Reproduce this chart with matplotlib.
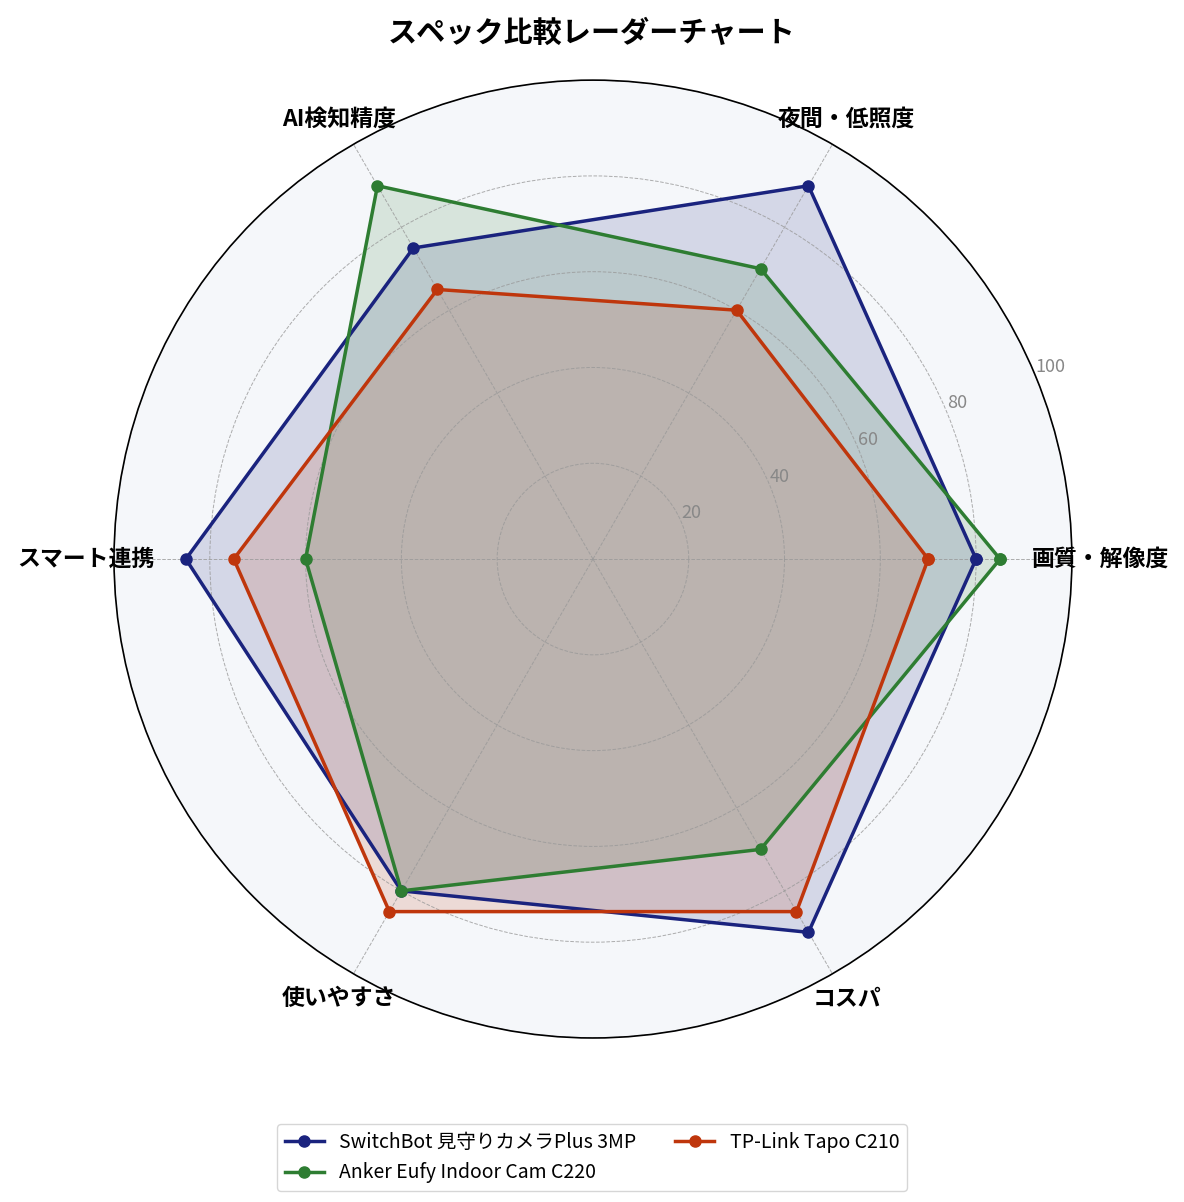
import numpy as np
import matplotlib
matplotlib.use("Agg")
import matplotlib.pyplot as plt

plt.rcParams['font.family'] = ['Noto Sans CJK JP', 'DejaVu Sans']

categories = ["画質・解像度", "夜間・低照度", "AI検知精度", "スマート連携", "使いやすさ", "コスパ"]
series_names = ["SwitchBot 見守りカメラPlus 3MP", "Anker Eufy Indoor Cam C220", "TP-Link Tapo C210"]
switchbot = [80, 90, 75, 85, 80, 90]
anker = [85, 70, 90, 60, 80, 70]
tplink = [70, 60, 65, 75, 85, 85]
colors = ["#1a237e", "#2e7d32", "#bf360c"]
rticks = [20, 40, 60, 80, 100]

fig = plt.figure(figsize=(11.84, 12.02), dpi=100)
ax = fig.add_axes([0.0963, 0.1364, 0.809, 0.797], projection='polar')
ax.set_facecolor('#f5f7fa')

N = len(categories)
angles = np.arange(N) * 2 * np.pi / N
closed = np.concatenate([angles, angles[:1]])

for name, vals, c in zip(series_names, [switchbot, anker, tplink], colors):
    v = np.concatenate([vals, vals[:1]])
    ax.plot(closed, v, color=c, linewidth=2.5, marker='o', markersize=8, label=name)
    ax.fill(closed, v, color=c, alpha=0.15)

ax.set_ylim(0, 100)
ax.set_yticks(rticks)
ax.set_yticklabels([str(t) for t in rticks], color='#888888', fontsize=13)
ax.set_rlabel_position(22.5)
ax.set_xticks(angles)
ax.set_xticklabels(categories, fontsize=16.5, fontweight='bold')
ax.tick_params(axis='x', pad=10)
ax.grid(color='#999999', linestyle='--', linewidth=0.7, alpha=0.8)
ax.spines['polar'].set_color('black')
ax.spines['polar'].set_linewidth(1.2)

fig.suptitle("スペック比較レーダーチャート", fontsize=21, fontweight='bold', y=0.985)
fig.legend(loc='center', bbox_to_anchor=(0.5, 0.037), ncol=2, fontsize=14, frameon=True)

fig.savefig("out.png", dpi=100)
